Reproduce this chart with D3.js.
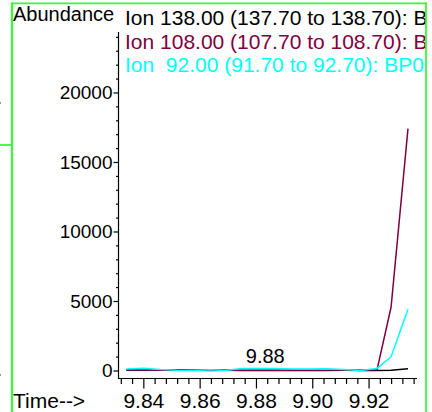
<!DOCTYPE html>
<html>
<head>
<meta charset="utf-8">
<script src="https://cdn.jsdelivr.net/npm/d3@7"></script>
<style>
  html, body { margin: 0; padding: 0; background: #fff; }
  svg { display: block; font-family: "Liberation Sans", Arial, sans-serif; }
</style>
</head>
<body>
<svg id="chart" width="432" height="412"></svg>
<script>
// ---- data ----
const times = [9.834, 9.840, 9.846, 9.852, 9.858, 9.864, 9.869, 9.875, 9.881,
               9.887, 9.893, 9.899, 9.905, 9.911, 9.917, 9.923, 9.928, 9.934];
const ion138 = [20, 10, 10, 20, 10, 0, 10, 0, 0, 0, 0, 0, 0, 10, 0, 0, 20, 130];
const ion108 = [30, 20, 20, 60, 20, 20, 20, 20, 20, 20, 20, 20, 20, 20, 20, 50, 4570, 17400];
const ion92  = [100, 170, 70, 20, 0, 50, 0, 150, 150, 150, 100, 100, 120, 70, 0, 150, 990, 4400];
const seriesLabels = [
  "Ion 138.00 (137.70 to 138.70): BP0",
  "Ion 108.00 (107.70 to 108.70): BP0",
  "Ion  92.00 (91.70 to 92.70): BP0"
];
const seriesColors = ["#000000", "#800040", "#00ffff"];
const yMajorTicks = [0, 5000, 10000, 15000, 20000];
const yMinorTicks = [1000, 2000, 3000, 4000, 6000, 7000, 8000, 9000, 11000, 12000, 13000, 14000,
                     16000, 17000, 18000, 19000, 21000, 22000, 23000, 24000];
const xMajorTicks = [9.84, 9.86, 9.88, 9.90, 9.92];
const xMinorTicks = [9.832, 9.836, 9.844, 9.848, 9.852, 9.856, 9.864, 9.868, 9.872, 9.876,
                     9.884, 9.888, 9.892, 9.896, 9.904, 9.908, 9.912, 9.916, 9.924, 9.928, 9.932, 9.936];
const peakLabel = { time: 9.8833, text: "9.88" };

// ---- drawing ----
const svg = d3.select("#chart");
const x = d3.scaleLinear().domain([9.831, 9.9372]).range([118, 417]);
const y = d3.scaleLinear().domain([0, 24350]).range([370.5, 32]);

// green frame
const green = "#33ff33";
svg.append("line").attr("x1", 12).attr("x2", 12).attr("y1", 2.5).attr("y2", 412)
  .attr("stroke", green).attr("stroke-width", 2.2);
svg.append("line").attr("x1", 11).attr("x2", 427).attr("y1", 3.3).attr("y2", 3.3)
  .attr("stroke", green).attr("stroke-width", 1.8);
svg.append("line").attr("x1", 426).attr("x2", 426).attr("y1", 2.5).attr("y2", 412)
  .attr("stroke", green).attr("stroke-width", 1.8);
svg.append("line").attr("x1", 0).attr("x2", 12).attr("y1", 145).attr("y2", 145)
  .attr("stroke", green).attr("stroke-width", 1.8);
svg.append("rect").attr("x", 0).attr("y", 102).attr("width", 1).attr("height", 2).attr("fill", "#999");
svg.append("rect").attr("x", 0).attr("y", 374).attr("width", 1).attr("height", 2).attr("fill", "#999");

const clip = svg.append("clipPath").attr("id", "frameclip");
clip.append("rect").attr("x", 0).attr("y", 0).attr("width", 425.2).attr("height", 412);

// y axis
const yAxisG = svg.append("g").attr("transform", "translate(118.5,0)");
yAxisG.call(d3.axisLeft(y).tickValues(yMajorTicks).tickSize(5).tickPadding(1).tickFormat(d3.format("d")));
yAxisG.select(".domain").remove();
yAxisG.selectAll("text").attr("font-size", 19).attr("font-family", "Liberation Sans, Arial, sans-serif").attr("fill", "#000");
const yMinorG = svg.append("g").attr("transform", "translate(118.5,0)");
yMinorG.call(d3.axisLeft(y).tickValues(yMinorTicks).tickSize(2.5).tickFormat(""));
yMinorG.select(".domain").remove();
svg.append("line").attr("x1", 118.5).attr("x2", 118.5).attr("y1", 32).attr("y2", 378.5)
  .attr("stroke", "#000").attr("stroke-width", 1.2);

// x axis
const xAxisG = svg.append("g").attr("transform", "translate(0,378.5)");
xAxisG.call(d3.axisBottom(x).tickValues(xMajorTicks).tickSize(10).tickFormat(d3.format(".2f")));
xAxisG.select(".domain").remove();
xAxisG.selectAll("text").attr("font-size", 21).attr("font-family", "Liberation Sans, Arial, sans-serif")
  .attr("fill", "#000").attr("y", 29.5).attr("dy", 0);
const xMinorG = svg.append("g").attr("transform", "translate(0,378.5)");
xMinorG.call(d3.axisBottom(x).tickValues(xMinorTicks).tickSize(5.5).tickFormat(""));
xMinorG.select(".domain").remove();
svg.append("line").attr("x1", 118).attr("x2", 417).attr("y1", 378.5).attr("y2", 378.5)
  .attr("stroke", "#000").attr("stroke-width", 1.2);
svg.selectAll(".tick line").attr("stroke", "#000").attr("stroke-width", 1.2);

// lines
const line = d3.line().x((d, i) => x(times[i])).y(d => y(d));
[ion138, ion108, ion92].forEach((s, k) => {
  svg.append("path").datum(s).attr("d", line)
    .attr("fill", "none").attr("stroke", seriesColors[k]).attr("stroke-width", 1.5)
    .attr("stroke-linejoin", "round");
});

// peak label
svg.append("text").attr("x", x(peakLabel.time)).attr("y", 363)
  .attr("text-anchor", "middle").attr("font-size", 20).attr("fill", "#000").text(peakLabel.text);

// header texts
svg.append("text").attr("x", 13).attr("y", 21).attr("font-size", 20).attr("fill", "#000").text("Abundance");
const header = svg.append("g").attr("clip-path", "url(#frameclip)");
const baselines = [25.3, 49.3, 71.7];
seriesLabels.forEach((t, k) => {
  header.append("text").attr("x", 125).attr("y", baselines[k])
    .attr("font-size", 21).attr("fill", seriesColors[k])
    .style("white-space", "pre").attr("xml:space", "preserve").text(t);
});

svg.append("text").attr("x", 13).attr("y", 408).attr("font-size", 21).attr("fill", "#000").text("Time-->");
</script>
</body>
</html>
